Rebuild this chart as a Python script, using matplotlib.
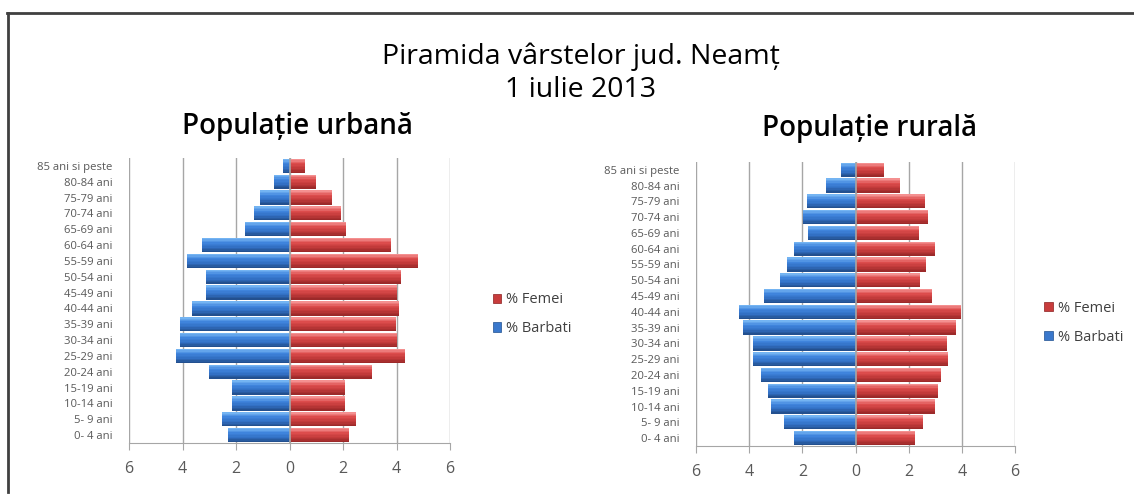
import numpy as np
import matplotlib
matplotlib.use("Agg")
import matplotlib.pyplot as plt
from matplotlib.colors import LinearSegmentedColormap
from matplotlib.patches import Patch
from matplotlib.lines import Line2D

plt.rcParams["font.family"] = ["Open Sans", "DejaVu Sans"]

# date (procente)
grupe = ["0- 4 ani", "5- 9 ani", "10-14 ani", "15-19 ani", "20-24 ani", "25-29 ani",
         "30-34 ani", "35-39 ani", "40-44 ani", "45-49 ani", "50-54 ani", "55-59 ani",
         "60-64 ani", "65-69 ani", "70-74 ani", "75-79 ani", "80-84 ani", "85 ani si peste"]

urban_barbati = [2.29, 2.54, 2.16, 2.16, 3.03, 4.23, 4.09, 4.09, 3.63, 3.13, 3.13, 3.85,
                 3.26, 1.68, 1.34, 1.09, 0.59, 0.25]
urban_femei = [2.21, 2.50, 2.09, 2.09, 3.09, 4.31, 4.00, 3.98, 4.09, 4.00, 4.16, 4.79,
               3.79, 2.10, 1.91, 1.60, 1.00, 0.59]

rural_barbati = [2.31, 2.69, 3.19, 3.29, 3.56, 3.84, 3.84, 4.24, 4.39, 3.43, 2.86, 2.59,
                 2.31, 1.78, 1.96, 1.81, 1.10, 0.56]
rural_femei = [2.23, 2.53, 3.00, 3.10, 3.23, 3.48, 3.44, 3.78, 3.98, 2.88, 2.41, 2.66,
               3.00, 2.38, 2.73, 2.63, 1.69, 1.06]

x_ticks = [-6, -4, -2, 0, 2, 4, 6]

blue_grad = LinearSegmentedColormap.from_list("b", ["#23508f", "#3270c4", "#3f84dc", "#74b4f2"])
red_grad = LinearSegmentedColormap.from_list("r", ["#9c2a2a", "#c23a3a", "#dc4c4c", "#f49090"])
gray_txt = "#595959"
grid_col = "#a6a6a6"


def gradient_bars(ax, values, sign, cmap, height=0.9, n=10):
    """bare cu efect de gradient (felii orizontale)"""
    y = np.arange(len(values))
    vals = sign * np.array(values)
    h = height / n
    for k in range(n):
        off = -height / 2 + h * (k + 0.5)
        ax.barh(y + off, vals, height=h * 1.02, color=cmap(k / (n - 1)),
                linewidth=0, zorder=3)


def pyramid(ax, barbati, femei, legend_pos):
    gradient_bars(ax, barbati, -1, blue_grad)
    gradient_bars(ax, femei, 1, red_grad)

    ax.set_xlim(-6, 6)
    ax.set_ylim(-0.5, len(grupe) - 0.5)
    ax.set_xticks(x_ticks)
    ax.set_xticklabels([str(abs(t)) for t in x_ticks], color=gray_txt, fontsize=11.5)
    ax.set_yticks(np.arange(len(grupe)))
    ax.set_yticklabels(grupe, color=gray_txt, fontsize=8.1)
    ax.tick_params(axis="y", length=0, pad=12)
    ax.tick_params(axis="x", length=5, color=grid_col, pad=8)
    for t in x_ticks:
        ax.axvline(t, color=grid_col, lw=1, zorder=1)
    ax.axvline(0, color=grid_col, lw=1.2, zorder=4)
    for s in ["top", "right", "left"]:
        ax.spines[s].set_visible(False)
    ax.spines["bottom"].set_color(grid_col)

    handles = [Patch(facecolor="#c83c3c", edgecolor="#8a2020", lw=0.5),
               Patch(facecolor="#3a78cc", edgecolor="#20508f", lw=0.5)]
    fig.legend(handles, ["% Femei", "% Barbati"], loc="center left",
               bbox_to_anchor=legend_pos, frameon=False, fontsize=10.5,
               labelcolor="#404040", handlelength=0.6, handleheight=0.6,
               handletextpad=0.35, labelspacing=0.95, borderpad=0)


fig = plt.figure(figsize=(11.34, 4.95), dpi=100)

ax1 = fig.add_axes([0.1138, 0.105, 0.2831, 0.576])
ax2 = fig.add_axes([0.6138, 0.099, 0.2813, 0.574])

pyramid(ax1, urban_barbati, urban_femei, (0.428, 0.365))
pyramid(ax2, rural_barbati, rural_femei, (0.914, 0.348))

fig.text(0.512, 0.885, "Piramida vârstelor jud. Neamț", ha="center", va="center",
         fontsize=20.5, color="#000000")
fig.text(0.512, 0.818, "1 iulie 2013", ha="center", va="center", fontsize=20.5, color="#000000")
fig.text(0.262, 0.745, "Populație urbană", ha="center", va="center", fontsize=20,
         fontweight="semibold", color="#000000")
fig.text(0.767, 0.741, "Populație rurală", ha="center", va="center", fontsize=20,
         fontweight="semibold", color="#000000")

# chenarul exterior
fig.add_artist(Line2D([7 / 1134, 1.0], [1 - 13 / 495] * 2, color="#404040", lw=2))
fig.add_artist(Line2D([8 / 1134] * 2, [1 - 13 / 495, 1 - 492 / 495], color="#404040", lw=2))

fig.savefig("out.png", dpi=100)
